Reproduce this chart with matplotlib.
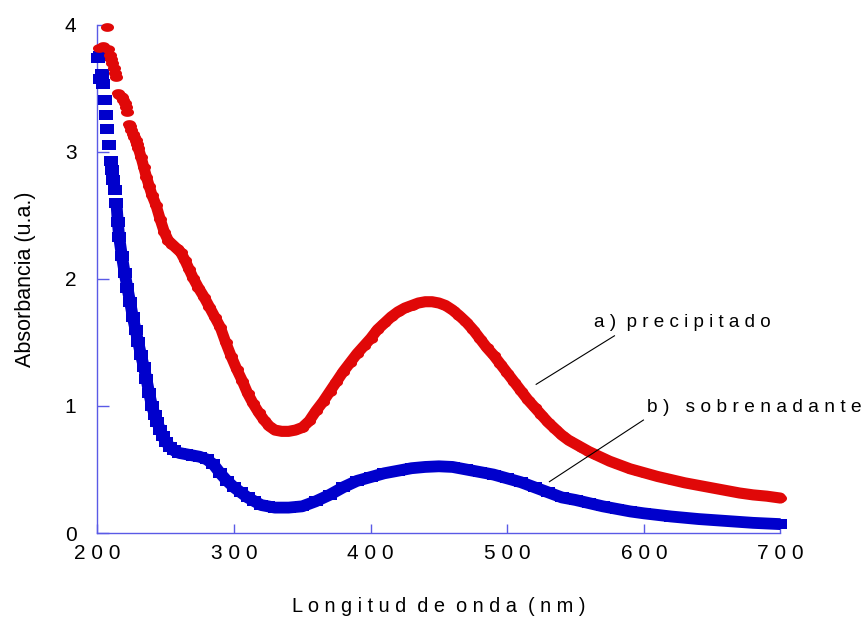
import numpy as np
import matplotlib.pyplot as plt
from matplotlib.path import Path

plt.rcParams["font.family"] = ["Liberation Sans", "DejaVu Sans"]

# ---- UV-vis spectra: (a) precipitate, (b) supernatant
red_nm = [201, 204, 207, 208, 209, 210, 211, 212, 213, 214, 215, 216, 217, 218,
          219, 220, 221, 222, 223, 224, 225, 226, 227, 228, 229, 230, 232, 234,
          236, 238, 240, 243, 246, 249, 252, 255, 258, 261, 264, 267, 270, 274,
          278, 282, 286, 290, 294, 298, 302, 306, 310, 314, 318, 322, 326, 330,
          335, 340, 345, 350, 355, 360, 365, 370, 375, 380, 385, 390, 395, 400,
          405, 410, 415, 420, 425, 430, 435, 440, 445, 450, 455, 460, 465, 470,
          475, 480, 485, 490, 495, 500, 505, 510, 515, 520, 525, 530, 535, 540,
          545, 550, 555, 560, 565, 570, 575, 580, 585, 590, 595, 600, 610, 620,
          630, 640, 650, 660, 670, 680, 690, 700]
red_abs = [3.82, 3.83, 3.98, 3.81, 3.76, 3.73, 3.70, 3.66, 3.62, 3.59, 3.46, 3.45,
           3.44, 3.43, 3.41, 3.38, 3.35, 3.31, 3.22, 3.20, 3.17, 3.14, 3.12, 3.09,
           3.06, 3.03, 2.96, 2.88, 2.80, 2.73, 2.66, 2.58, 2.47, 2.37, 2.30, 2.27,
           2.24, 2.21, 2.15, 2.08, 2.01, 1.93, 1.86, 1.78, 1.70, 1.62, 1.50, 1.39,
           1.29, 1.20, 1.10, 1.02, 0.95, 0.89, 0.84, 0.81, 0.80, 0.80, 0.81, 0.83,
           0.88, 0.96, 1.03, 1.11, 1.19, 1.27, 1.34, 1.41, 1.47, 1.53, 1.60, 1.65,
           1.70, 1.74, 1.77, 1.79, 1.81, 1.82, 1.82, 1.81, 1.79, 1.755, 1.71, 1.66,
           1.60, 1.53, 1.46, 1.40, 1.33, 1.26, 1.19, 1.12, 1.05, 0.99, 0.93, 0.87,
           0.82, 0.77, 0.73, 0.70, 0.67, 0.64, 0.615, 0.59, 0.565, 0.545, 0.525,
           0.505, 0.49, 0.475, 0.445, 0.42, 0.395, 0.375, 0.355, 0.335, 0.315,
           0.30, 0.29, 0.275]

blue_nm = [200.8, 201.7, 202, 203.2, 204.4, 205.6, 206.4, 207.3, 208.6, 209.8,
           211, 211.7, 213, 214, 215, 216, 218, 220, 222, 224, 226, 228, 230, 232,
           234, 236, 238, 240, 242, 244, 246, 248, 250, 253, 256, 260, 265, 270,
           275, 280, 285, 290, 295, 300, 305, 310, 315, 320, 325, 330, 335, 340,
           345, 350, 360, 370, 380, 390, 400, 410, 420, 430, 440, 450, 460, 470,
           480, 490, 500, 510, 520, 530, 540, 550, 560, 570, 580, 590, 600, 620,
           640, 660, 680, 700]
blue_abs = [3.74, 3.57, 3.75, 3.61, 3.53, 3.41, 3.29, 3.18, 3.05, 2.93, 2.86, 2.78,
            2.70, 2.60, 2.45, 2.33, 2.18, 2.05, 1.93, 1.82, 1.70, 1.60, 1.50, 1.40,
            1.31, 1.21, 1.10, 1.00, 0.93, 0.87, 0.81, 0.76, 0.72, 0.68, 0.65, 0.63,
            0.62, 0.61, 0.60, 0.58, 0.54, 0.47, 0.41, 0.36, 0.32, 0.28, 0.25, 0.22,
            0.21, 0.20, 0.20, 0.20, 0.205, 0.21, 0.25, 0.30, 0.36, 0.41, 0.44, 0.47,
            0.49, 0.51, 0.52, 0.525, 0.52, 0.50, 0.48, 0.46, 0.43, 0.40, 0.36, 0.32,
            0.28, 0.26, 0.235, 0.21, 0.19, 0.17, 0.155, 0.13, 0.11, 0.095, 0.08, 0.07]

x_ticks = [200, 300, 400, 500, 600, 700]
y_ticks = [0, 1, 2, 3, 4]

label_a = "a) precipitado"
label_b = "b) sobrenadante"

RED = "#e00808"
BLUE = "#0000cc"
AXIS = "#5a5ae6"


def spaced(text, gap=2):
    # letter-spaced text, wider gap between words
    return (" " * gap).join(" ".join(w) for w in text.split(" "))


# squashed markers: wide ellipse and wide square
t = np.linspace(0, 2 * np.pi, 48)
ellipse = Path(np.column_stack([np.cos(t), 0.67 * np.sin(t)]), closed=True)
box = Path([[-1, -0.77], [1, -0.77], [1, 0.77], [-1, 0.77], [-1, -0.77]], closed=True)

fig = plt.figure(figsize=(8.67, 6.19), dpi=100)
ax = fig.add_axes([0.1122, 0.1389, 0.788, 0.8212])

red_nm = np.array(red_nm)
red_abs = np.array(red_abs)
blue_nm = np.array(blue_nm)
blue_abs = np.array(blue_abs)

# the steep start is sampled sparsely, so only join the points further on
rb = red_nm >= 228
bb = blue_nm >= 214

ax.plot(blue_nm[bb], blue_abs[bb], color=BLUE, lw=8.5, solid_capstyle="butt",
        solid_joinstyle="round", zorder=3, clip_on=False)
ax.plot(blue_nm, blue_abs, ls="none", marker=box, ms=10.0, mew=0, color=BLUE,
        zorder=3, clip_on=False)
ax.plot(red_nm[rb], red_abs[rb], color=RED, lw=8.0, solid_capstyle="round",
        solid_joinstyle="round", zorder=3, clip_on=False)
ax.plot(red_nm, red_abs, ls="none", marker=ellipse, ms=9.4, mew=0, color=RED,
        zorder=3, clip_on=False)

# leader lines and curve labels
ax.plot([521.2, 578.5], [1.170, 1.552], color="k", lw=0.8, zorder=4)
ax.plot([530.9, 599.7], [0.404, 0.889], color="k", lw=0.8, zorder=4)
ax.text(563.6, 1.623, spaced(label_a), fontsize=13.6, ha="left", va="baseline")
ax.text(602.0, 0.954, spaced(label_b, gap=3), fontsize=13.8, ha="left", va="baseline")

ax.set_xlim(200, 700)
ax.set_ylim(0, 4)
for s in ["top", "right"]:
    ax.spines[s].set_visible(False)
for s in ["left", "bottom"]:
    ax.spines[s].set_color(AXIS)
    ax.spines[s].set_linewidth(1.0)

ax.set_xticks(x_ticks)
ax.set_xticklabels([spaced(str(v)) for v in x_ticks])
ax.set_yticks(y_ticks)
ax.set_yticklabels([str(v) for v in y_ticks])
ax.tick_params(axis="x", direction="in", length=6.5, width=1.0, color=AXIS,
               pad=8, labelsize=15)
ax.tick_params(axis="y", direction="in", length=8.6, width=1.0, color=AXIS,
               pad=15, labelsize=15)

ax.set_xlabel(spaced("Longitud de onda (nm)"), fontsize=14.4)
ax.xaxis.set_label_coords(0.5, -0.126)
ax.set_ylabel("Absorbancia (u.a.)", fontsize=15.5)
ax.yaxis.set_label_coords(-0.090, 0.5)

fig.savefig("out.png", dpi=100)
